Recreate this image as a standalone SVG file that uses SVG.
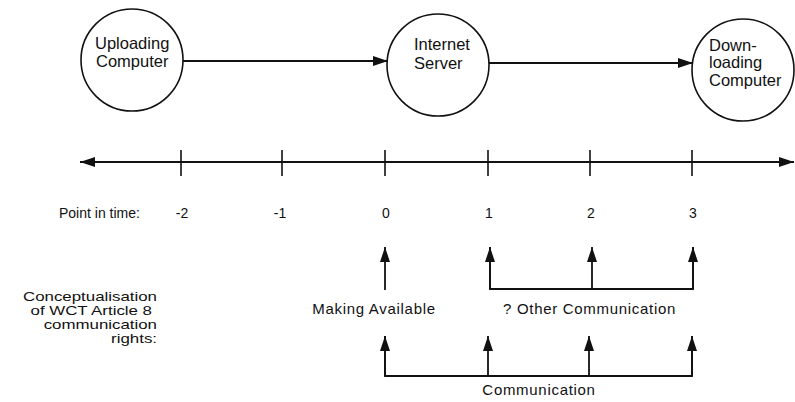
<svg xmlns="http://www.w3.org/2000/svg" width="795" height="402" viewBox="0 0 795 402">
  <style>
    .node { fill: #ffffff; stroke: #111111; stroke-width: 1.6; }
    .line { fill: none; stroke: #111111; stroke-width: 1.8; }
    .tick { fill: none; stroke: #111111; stroke-width: 1.6; }
    text { font-family: "Liberation Sans", Arial, sans-serif; fill: #111111; }
    .ntext { font-size: 16.5px; }
    .lbl { font-size: 14px; }
    .cap { font-size: 15px; letter-spacing: 0.7px; }
    .side { font-size: 12.5px; text-anchor: end; }
  </style>
  <defs>
    <marker id="head" markerUnits="userSpaceOnUse" markerWidth="16" markerHeight="12" viewBox="0 0 16 12" refX="15" refY="6" orient="auto-start-reverse">
      <path d="M0,1 L15,6 L0,11 Z" fill="#111111"/>
    </marker>
  </defs>

  <!-- computers and server -->
  <g id="uploading">
    <circle class="node" cx="132" cy="60" r="51"/>
    <text class="ntext" x="95" y="49">Uploading</text>
    <text class="ntext" x="96" y="67">Computer</text>
  </g>
  <g id="server">
    <circle class="node" cx="438" cy="65" r="51"/>
    <text class="ntext" x="414" y="50">Internet</text>
    <text class="ntext" x="414" y="69">Server</text>
  </g>
  <g id="downloading">
    <circle class="node" cx="743" cy="70" r="51"/>
    <text class="ntext" x="709" y="51">Down-</text>
    <text class="ntext" x="709" y="68">loading</text>
    <text class="ntext" x="709" y="86">Computer</text>
  </g>

  <!-- time axis -->
  <g id="timeline">
    <line class="line" x1="80" y1="162" x2="794" y2="162" marker-start="url(#head)" marker-end="url(#head)"/>
    <line class="tick" x1="181" y1="150" x2="181" y2="176"/>
    <line class="tick" x1="282" y1="150" x2="282" y2="176"/>
    <line class="tick" x1="385" y1="150" x2="385" y2="176"/>
    <line class="tick" x1="488" y1="150" x2="488" y2="176"/>
    <line class="tick" x1="590" y1="150" x2="590" y2="176"/>
    <line class="tick" x1="692" y1="150" x2="692" y2="176"/>
    <text class="lbl" x="59" y="218">Point in time:</text>
    <text class="lbl" x="182" y="218" text-anchor="middle">-2</text>
    <text class="lbl" x="280" y="218" text-anchor="middle">-1</text>
    <text class="lbl" x="386" y="218" text-anchor="middle">0</text>
    <text class="lbl" x="489" y="218" text-anchor="middle">1</text>
    <text class="lbl" x="591" y="218" text-anchor="middle">2</text>
    <text class="lbl" x="693" y="218" text-anchor="middle">3</text>
  </g>

  <!-- side caption, set in a wide face -->
  <g id="caption">
    <text class="side" transform="translate(157,301) scale(1.35,1)">Conceptualisation</text>
    <text class="side" transform="translate(152,315) scale(1.35,1)">of WCT Article 8</text>
    <text class="side" transform="translate(157,329) scale(1.35,1)">communication</text>
    <text class="side" transform="translate(157,343) scale(1.35,1)">rights:</text>
  </g>

  <!-- rights labels -->
  <g id="making-available-label">
    <text class="cap" x="374" y="314" text-anchor="middle">Making Available</text>
  </g>
  <g id="other-communication-label">
    <text class="cap" x="503" y="314">? Other Communication</text>
  </g>
  <g id="communication-label">
    <text class="cap" x="539" y="395" text-anchor="middle">Communication</text>
  </g>

  <!-- connectors -->
  <g id="connectors">
    <line class="line" x1="183" y1="61" x2="388" y2="61" marker-end="url(#head)"/>
    <line class="line" x1="489" y1="63" x2="693" y2="63" marker-end="url(#head)"/>

    <line class="line" x1="385" y1="290" x2="385" y2="247" marker-end="url(#head)"/>

    <path class="line" d="M490,247 V289 H693 V247"/>
    <line class="line" x1="490" y1="289" x2="490" y2="247" marker-end="url(#head)"/>
    <line class="line" x1="592" y1="289" x2="592" y2="247" marker-end="url(#head)"/>
    <line class="line" x1="693" y1="289" x2="693" y2="247" marker-end="url(#head)"/>

    <path class="line" d="M385,336 V376 H692 V336"/>
    <line class="line" x1="385" y1="376" x2="385" y2="336" marker-end="url(#head)"/>
    <line class="line" x1="488" y1="376" x2="488" y2="336" marker-end="url(#head)"/>
    <line class="line" x1="589" y1="376" x2="589" y2="336" marker-end="url(#head)"/>
    <line class="line" x1="692" y1="376" x2="692" y2="336" marker-end="url(#head)"/>
  </g>
</svg>
